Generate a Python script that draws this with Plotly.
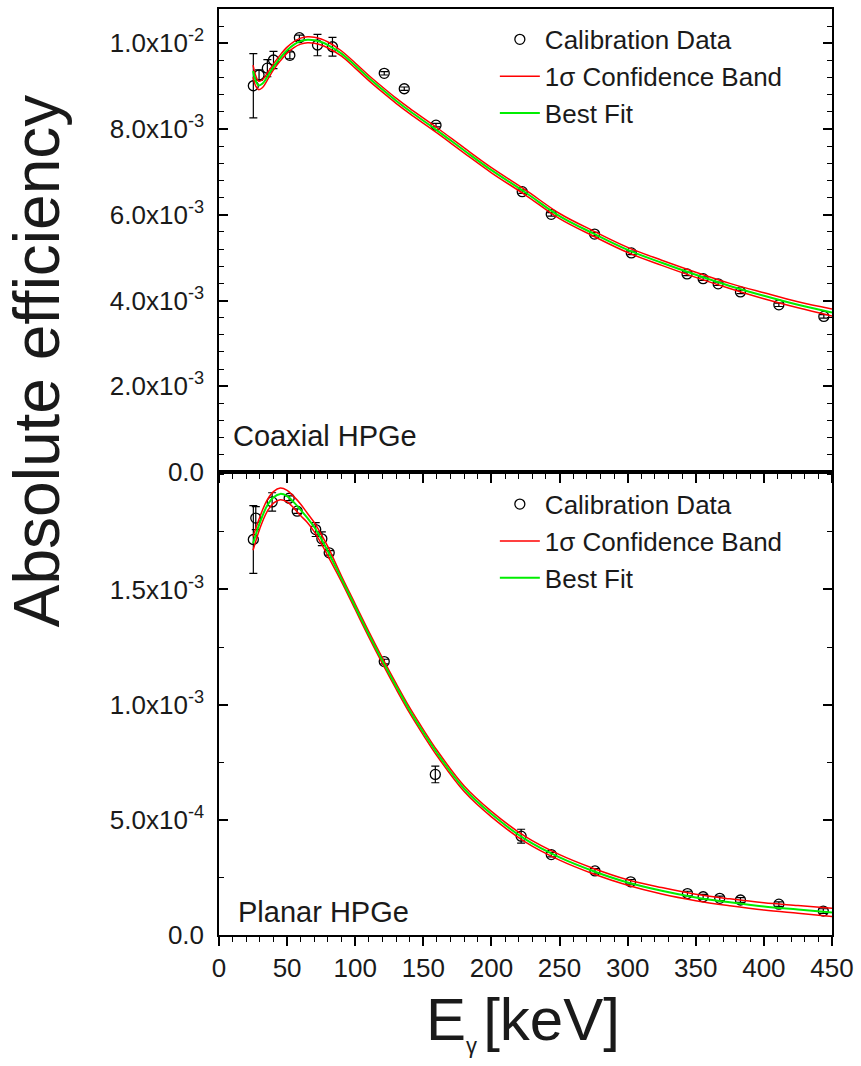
import plotly.graph_objects as go

SCALE = 1e-3  # values below are in units of 1e-3

# ---------------- Coaxial HPGe (top panel) ----------------
coax_E = [25.2, 29.4, 35.5, 40.0, 52.0, 59.0, 72.3, 83.3, 121.3, 136.0, 159.3,
          222.6, 243.9, 275.7, 302.7, 343.6, 355.4, 366.4, 382.8, 411.0, 444.0]
coax_eff = [9.01, 9.26, 9.42, 9.61, 9.72, 10.13, 9.96, 9.92, 9.30, 8.94, 8.09,
            6.54, 6.01, 5.55, 5.11, 4.62, 4.51, 4.39, 4.20, 3.90, 3.63]
coax_err = [0.75, 0.12, 0.20, 0.20, 0.08, 0.06, 0.25, 0.22, 0.04, 0.04, 0.04,
            0.04, 0.04, 0.04, 0.04, 0.04, 0.04, 0.04, 0.04, 0.04, 0.04]

coax_fit_E = [25, 27, 29, 32, 36, 40, 45, 50, 55, 60, 65, 70, 75, 80, 90, 100, 110,
              120, 130, 140, 160, 180, 200, 225, 250, 275, 300, 325, 350, 375, 400, 425, 450]
coax_fit = [9.35, 9.12, 9.02, 9.06, 9.25, 9.45, 9.66, 9.84, 9.97, 10.05, 10.08, 10.07,
            10.03, 9.96, 9.76, 9.48, 9.19, 8.92, 8.66, 8.42, 7.97, 7.50, 7.04, 6.52,
            5.97, 5.56, 5.18, 4.88, 4.60, 4.34, 4.11, 3.90, 3.72]
coax_up = [9.49, 9.24, 9.12, 9.15, 9.33, 9.52, 9.73, 9.91, 10.04, 10.12, 10.15, 10.14,
           10.10, 10.03, 9.82, 9.54, 9.25, 8.98, 8.72, 8.48, 8.03, 7.56, 7.10, 6.58,
           6.03, 5.62, 5.24, 4.94, 4.66, 4.40, 4.18, 3.97, 3.80]
coax_lo = [9.21, 9.00, 8.92, 8.97, 9.17, 9.38, 9.59, 9.77, 9.90, 9.98, 10.01, 10.00,
           9.96, 9.89, 9.70, 9.42, 9.13, 8.86, 8.60, 8.36, 7.91, 7.44, 6.98, 6.46,
           5.91, 5.50, 5.12, 4.82, 4.54, 4.28, 4.04, 3.83, 3.64]

# ---------------- Planar HPGe (bottom panel) ----------------
plan_E = [25.2, 27.0, 39.0, 51.5, 57.4, 71.0, 75.5, 80.9, 121.3, 158.8, 221.8,
          243.9, 276.0, 302.2, 343.9, 355.4, 367.6, 382.8, 411.0, 443.6]
plan_eff = [1.717, 1.81, 1.88, 1.896, 1.84, 1.76, 1.72, 1.659, 1.187, 0.697, 0.429,
            0.349, 0.278, 0.231, 0.180, 0.166, 0.159, 0.152, 0.134, 0.104]
plan_err = [0.147, 0.05, 0.04, 0.01, 0.01, 0.03, 0.03, 0.01, 0.01, 0.036, 0.03,
            0.01, 0.01, 0.01, 0.01, 0.01, 0.01, 0.01, 0.01, 0.01]

plan_fit_E = [25, 30, 35, 40, 45, 50, 55, 60, 65, 70, 75, 80, 90, 100, 110, 120, 130,
              140, 150, 160, 180, 200, 225, 250, 275, 300, 325, 350, 375, 400, 425, 450]
plan_fit = [1.70, 1.79, 1.86, 1.90, 1.915, 1.905, 1.878, 1.845, 1.81, 1.77, 1.72, 1.665,
            1.545, 1.425, 1.305, 1.19, 1.08, 0.975, 0.88, 0.79, 0.635, 0.525, 0.415,
            0.337, 0.277, 0.228, 0.192, 0.163, 0.142, 0.124, 0.111, 0.098]
plan_up = [1.73, 1.815, 1.885, 1.925, 1.94, 1.93, 1.903, 1.87, 1.83, 1.79, 1.74, 1.685,
           1.557, 1.437, 1.317, 1.202, 1.092, 0.987, 0.892, 0.802, 0.647, 0.537, 0.427,
           0.349, 0.289, 0.240, 0.206, 0.177, 0.157, 0.140, 0.128, 0.116]
plan_lo = [1.67, 1.765, 1.835, 1.875, 1.89, 1.88, 1.853, 1.82, 1.79, 1.75, 1.70, 1.645,
           1.533, 1.413, 1.293, 1.178, 1.068, 0.963, 0.868, 0.778, 0.623, 0.513, 0.403,
           0.325, 0.265, 0.216, 0.178, 0.149, 0.127, 0.108, 0.094, 0.080]

coax_tickvals = [0, 2, 4, 6, 8, 10]
coax_ticktext = ["0.0", "2.0x10<sup>-3</sup>", "4.0x10<sup>-3</sup>", "6.0x10<sup>-3</sup>",
                 "8.0x10<sup>-3</sup>", "1.0x10<sup>-2</sup>"]
plan_tickvals = [0, 0.5, 1.0, 1.5]
plan_ticktext = ["0.0", "5.0x10<sup>-4</sup>", "1.0x10<sup>-3</sup>", "1.5x10<sup>-3</sup>"]
x_tickvals = [0, 50, 100, 150, 200, 250, 300, 350, 400, 450]

FONT = "Liberation Sans, Arial, sans-serif"
TXT = "#1a1a1a"


def sc(v):
    return [a * SCALE for a in v]


fig = go.Figure()

for (E, eff, err, fE, fit, up, lo, xa, ya, lg) in [
    (coax_E, coax_eff, coax_err, coax_fit_E, coax_fit, coax_up, coax_lo, "x", "y", "legend"),
    (plan_E, plan_eff, plan_err, plan_fit_E, plan_fit, plan_up, plan_lo, "x2", "y2", "legend2"),
]:
    fig.add_trace(go.Scatter(
        x=E, y=sc(eff), mode="markers", name="Calibration Data",
        error_y=dict(type="data", array=sc(err), color="black", thickness=1.2, width=4),
        marker=dict(symbol="circle-open", size=10, color="black", line=dict(width=1.3)),
        xaxis=xa, yaxis=ya, legend=lg))
    fig.add_trace(go.Scatter(
        x=fE, y=sc(up), mode="lines", name="1σ Confidence Band",
        line=dict(color="#ff0000", width=1.5, shape="spline"),
        xaxis=xa, yaxis=ya, legend=lg))
    fig.add_trace(go.Scatter(
        x=fE, y=sc(lo), mode="lines", name="1σ Confidence Band", showlegend=False,
        line=dict(color="#ff0000", width=1.5, shape="spline"),
        xaxis=xa, yaxis=ya, legend=lg))
    fig.add_trace(go.Scatter(
        x=fE, y=sc(fit), mode="lines", name="Best Fit",
        line=dict(color="#00ee00", width=2, shape="spline"),
        xaxis=xa, yaxis=ya, legend=lg))

axis_common = dict(showgrid=False, zeroline=False, showline=True, linecolor="black",
                   linewidth=1.5, tickcolor="black", tickwidth=1.5,
                   tickfont=dict(family=FONT, size=26, color=TXT))

fig.update_layout(
    width=861, height=1066,
    margin=dict(l=219, r=29, t=7, b=131),
    paper_bgcolor="white", plot_bgcolor="white",
    showlegend=True,
    xaxis=dict(axis_common, domain=[0, 1], anchor="y", range=[0, 450],
               tickvals=x_tickvals, ticks="outside", ticklen=9, showticklabels=False,
               mirror=True, minor=dict(dtick=10, tick0=0, ticks="outside", ticklen=5,
                                       tickcolor="black", tickwidth=1.2)),
    yaxis=dict(axis_common, domain=[0.5, 1], anchor="x", range=[0, 10.8 * SCALE],
               tickvals=sc(coax_tickvals), ticktext=coax_ticktext, ticks="inside",
               ticklen=9, mirror="ticks", ticklabelstandoff=8,
               minor=dict(dtick=0.4 * SCALE, tick0=0, ticks="inside", ticklen=5,
                          tickcolor="black", tickwidth=1.2)),
    xaxis2=dict(axis_common, domain=[0, 1], anchor="y2", range=[0, 450],
                tickvals=x_tickvals, ticks="outside", ticklen=9, mirror=True,
                minor=dict(dtick=10, tick0=0, ticks="outside", ticklen=5,
                           tickcolor="black", tickwidth=1.2)),
    yaxis2=dict(axis_common, domain=[0, 0.5], anchor="x2", range=[0, 2.01 * SCALE],
                tickvals=sc(plan_tickvals), ticktext=plan_ticktext, ticks="inside",
                ticklen=9, mirror="ticks", ticklabelstandoff=8,
                minor=dict(dtick=0.25 * SCALE, tick0=0, ticks="inside", ticklen=5,
                           tickcolor="black", tickwidth=1.2)),
    legend=dict(x=0.45, y=0.9925, xanchor="left", yanchor="top",
                font=dict(family=FONT, size=26, color=TXT), bgcolor="rgba(0,0,0,0)",
                tracegroupgap=0, itemwidth=40),
    legend2=dict(x=0.45, y=0.4906, xanchor="left", yanchor="top",
                 font=dict(family=FONT, size=26, color=TXT), bgcolor="rgba(0,0,0,0)",
                 tracegroupgap=0, itemwidth=40),
    annotations=[
        dict(text="Coaxial HPGe", xref="paper", yref="paper", x=0.019, y=0.5388,
             xanchor="left", yanchor="middle", showarrow=False,
             font=dict(family=FONT, size=29, color=TXT)),
        dict(text="Planar HPGe", xref="paper", yref="paper", x=0.027, y=0.0248,
             xanchor="left", yanchor="middle", showarrow=False,
             font=dict(family=FONT, size=29, color=TXT)),
        dict(text="Absolute efficiency", xref="paper", yref="paper", x=-0.297, y=0.6196,
             xanchor="center", yanchor="middle", textangle=-90, showarrow=False,
             font=dict(family=FONT, size=64, color=TXT)),
        dict(text="E<sub><span style='font-size:22px'>γ </span></sub>[keV]",
             xref="paper", yref="paper", x=0.496, y=-0.094,
             xanchor="center", yanchor="middle", showarrow=False,
             font=dict(family=FONT, size=60, color=TXT)),
    ],
)

fig.write_html("out.html")
